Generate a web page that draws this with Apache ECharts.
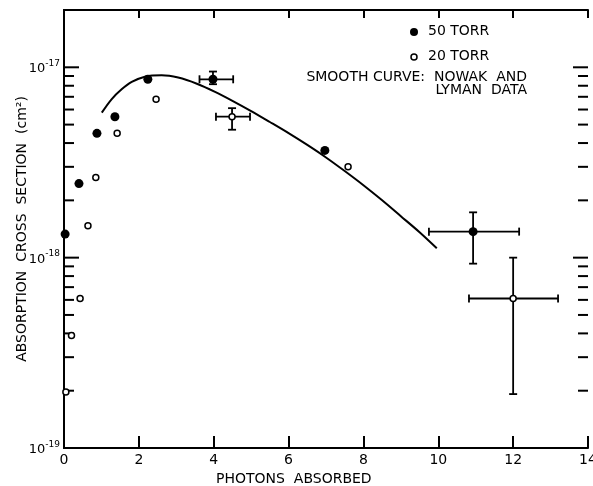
<!DOCTYPE html>
<html>
<head>
<meta charset="utf-8">
<script src="https://cdn.jsdelivr.net/npm/echarts@6/dist/echarts.min.js"></script>
<style>
  html, body { margin: 0; padding: 0; background: #fff; }
  #main { width: 593px; height: 486px; }
</style>
</head>
<body>
<div id="main"></div>
<script>
// 50 torr (filled) points: [photons, cross section cm^2]
var torr50 = [
  [0.03, 1.33e-18], [0.40, 2.45e-18], [0.88, 4.5e-18], [1.36, 5.5e-18],
  [2.24, 8.65e-18], [3.98, 8.65e-18], [6.97, 3.66e-18], [10.93, 1.37e-18]
];
// 20 torr (open) points
var torr20 = [
  [0.05, 1.97e-19], [0.20, 3.9e-19], [0.43, 6.1e-19], [0.64, 1.47e-18],
  [0.85, 2.64e-18], [1.42, 4.5e-18], [2.46, 6.8e-18], [4.49, 5.5e-18],
  [7.59, 3.0e-18], [12.0, 6.1e-19]
];
// error bars: [x, y, xLow, xHigh, yLow, yHigh]
var errBars = [
  [3.98, 8.65e-18, 3.62, 4.52, 8.15e-18, 9.5e-18],
  [4.49, 5.5e-18, 4.06, 4.97, 4.7e-18, 6.1e-18],
  [10.93, 1.37e-18, 9.75, 12.16, 9.3e-19, 1.73e-18],
  [12.0, 6.1e-19, 10.82, 13.2, 1.92e-19, 1.0e-18]
];
// smooth curve (Nowak and Lyman)
var curveX = [1.01, 1.27, 1.54, 1.81, 2.16, 2.61, 3.05, 3.55, 4.05, 4.5, 5.0,
              5.5, 6.0, 6.5, 7.0, 7.5, 8.0, 8.5, 9.0, 9.5, 9.96];
var curveY = [5.78e-18, 6.79e-18, 7.66e-18, 8.38e-18, 8.93e-18, 9.08e-18, 8.83e-18, 8.20e-18,
              7.41e-18, 6.67e-18, 5.89e-18, 5.16e-18, 4.51e-18, 3.91e-18, 3.36e-18, 2.85e-18,
              2.40e-18, 2.00e-18, 1.65e-18, 1.36e-18, 1.12e-18];
// y-axis ticks
var majorTicks = [1e-19, 1e-18, 1e-17];
var minorTicks = [2e-19, 3e-19, 4e-19, 5e-19, 6e-19, 7e-19, 8e-19, 9e-19,
                  2e-18, 3e-18, 4e-18, 5e-18, 6e-18, 7e-18, 8e-18, 9e-18];

var font = 'DejaVu Sans';
var chart = echarts.init(document.getElementById('main'));

var tickData = majorTicks.map(function (v) { return [v, 1]; })
  .concat(minorTicks.map(function (v) { return [v, 0]; }));

var option = {
  animation: false,
  grid: { left: 64, right: 5, top: 10, bottom: 38, outerBoundsMode: 'none' },
  xAxis: [{
    type: 'value', min: 0, max: 14, interval: 2,
    axisLine: { lineStyle: { color: '#000', width: 2 } },
    axisTick: { inside: true, length: 12, lineStyle: { color: '#000', width: 2 } },
    axisLabel: { color: '#000', fontFamily: font, fontSize: 14, margin: 5 },
    splitLine: { show: false }
  }, {
    type: 'value', min: 0, max: 14, interval: 2, position: 'top',
    axisLine: { lineStyle: { color: '#000', width: 2 } },
    axisTick: { inside: true, length: 8, lineStyle: { color: '#000', width: 2 } },
    axisLabel: { show: false },
    splitLine: { show: false }
  }],
  yAxis: [{
    type: 'log', logBase: 10, min: 1e-19, max: 2e-17,
    name: 'ABSORPTION  CROSS  SECTION  (cm\u00b2)',
    nameLocation: 'middle', nameGap: 35, nameMoveOverlap: false,
    nameTextStyle: { color: '#000', fontFamily: font, fontSize: 14 },
    axisLine: { lineStyle: { color: '#000', width: 2 } },
    axisTick: { show: false },
    splitLine: { show: false },
    axisLabel: {
      color: '#000', margin: 4,
      formatter: function (v) {
        var e = Math.log10(v);
        if (Math.abs(e - Math.round(e)) > 1e-6) return '';
        return '{b|10}{s|' + Math.round(e) + '}';
      },
      rich: {
        b: { fontFamily: font, fontSize: 13, color: '#000', verticalAlign: 'bottom', lineHeight: 16 },
        s: { fontFamily: font, fontSize: 9, color: '#000', verticalAlign: 'top', lineHeight: 16 }
      }
    }
  }, {
    type: 'log', logBase: 10, min: 1e-19, max: 2e-17, position: 'right',
    axisLine: { lineStyle: { color: '#000', width: 2 } },
    axisTick: { show: false },
    axisLabel: { show: false },
    splitLine: { show: false }
  }],
  graphic: [
    { type: 'circle', shape: { cx: 414, cy: 32, r: 4 }, style: { fill: '#000' } },
    { type: 'text', left: 428, top: 24, style: { text: '50 TORR', font: '14px ' + font, fill: '#000' } },
    { type: 'circle', shape: { cx: 414, cy: 57, r: 3 }, style: { fill: '#fff', stroke: '#000', lineWidth: 1.5 } },
    { type: 'text', left: 428, top: 49, style: { text: '20 TORR', font: '14px ' + font, fill: '#000' } },
    { type: 'text', right: 66, top: 70, style: { text: 'SMOOTH CURVE:  NOWAK  AND', font: '14px ' + font, fill: '#000' } },
    { type: 'text', right: 66, top: 83, style: { text: 'LYMAN  DATA', font: '14px ' + font, fill: '#000' } },
    { type: 'text', left: 216, top: 472, style: { text: 'PHOTONS  ABSORBED', font: '14px ' + font, fill: '#000' } }
  ],
  series: [{
    type: 'custom',
    name: 'yticks',
    xAxisIndex: 0, yAxisIndex: 0,
    silent: true,
    data: tickData,
    encode: { y: 0 },
    renderItem: function (params, api) {
      var v = api.value(0);
      var len = api.value(1) ? 15 : 10;
      var l = api.coord([0, v]);
      var r = api.coord([14, v]);
      var st = { stroke: '#000', lineWidth: 2 };
      return {
        type: 'group',
        children: [
          { type: 'line', shape: { x1: l[0], y1: l[1], x2: l[0] + len, y2: l[1] }, style: st },
          { type: 'line', shape: { x1: r[0], y1: r[1], x2: r[0] - len, y2: r[1] }, style: st }
        ]
      };
    }
  }, {
    type: 'custom',
    name: 'errors',
    silent: true,
    data: errBars,
    encode: { x: [0, 2, 3], y: [1, 4, 5] },
    renderItem: function (params, api) {
      var c = api.coord([api.value(0), api.value(1)]);
      var xl = api.coord([api.value(2), api.value(1)]);
      var xh = api.coord([api.value(3), api.value(1)]);
      var yl = api.coord([api.value(0), api.value(4)]);
      var yh = api.coord([api.value(0), api.value(5)]);
      var st = { stroke: '#000', lineWidth: 1.8 };
      var cap = 4;
      return {
        type: 'group',
        children: [
          { type: 'line', shape: { x1: xl[0], y1: c[1], x2: xh[0], y2: c[1] }, style: st },
          { type: 'line', shape: { x1: xl[0], y1: c[1] - cap, x2: xl[0], y2: c[1] + cap }, style: st },
          { type: 'line', shape: { x1: xh[0], y1: c[1] - cap, x2: xh[0], y2: c[1] + cap }, style: st },
          { type: 'line', shape: { x1: c[0], y1: yl[1], x2: c[0], y2: yh[1] }, style: st },
          { type: 'line', shape: { x1: c[0] - cap, y1: yl[1], x2: c[0] + cap, y2: yl[1] }, style: st },
          { type: 'line', shape: { x1: c[0] - cap, y1: yh[1], x2: c[0] + cap, y2: yh[1] }, style: st }
        ]
      };
    }
  }, {
    type: 'line',
    name: 'Nowak and Lyman',
    data: curveX.map(function (x, i) { return [x, curveY[i]]; }),
    smooth: 0.3,
    showSymbol: false,
    lineStyle: { color: '#000', width: 2 }
  }, {
    type: 'scatter',
    name: '50 TORR',
    data: torr50,
    symbol: 'circle',
    symbolSize: 9,
    itemStyle: { color: '#000', opacity: 1 },
    z: 5
  }, {
    type: 'scatter',
    name: '20 TORR',
    data: torr20,
    symbol: 'circle',
    symbolSize: 6,
    itemStyle: { color: '#fff', borderColor: '#000', borderWidth: 1.5, opacity: 1 },
    z: 5
  }]
};
chart.setOption(option);
</script>
</body>
</html>
